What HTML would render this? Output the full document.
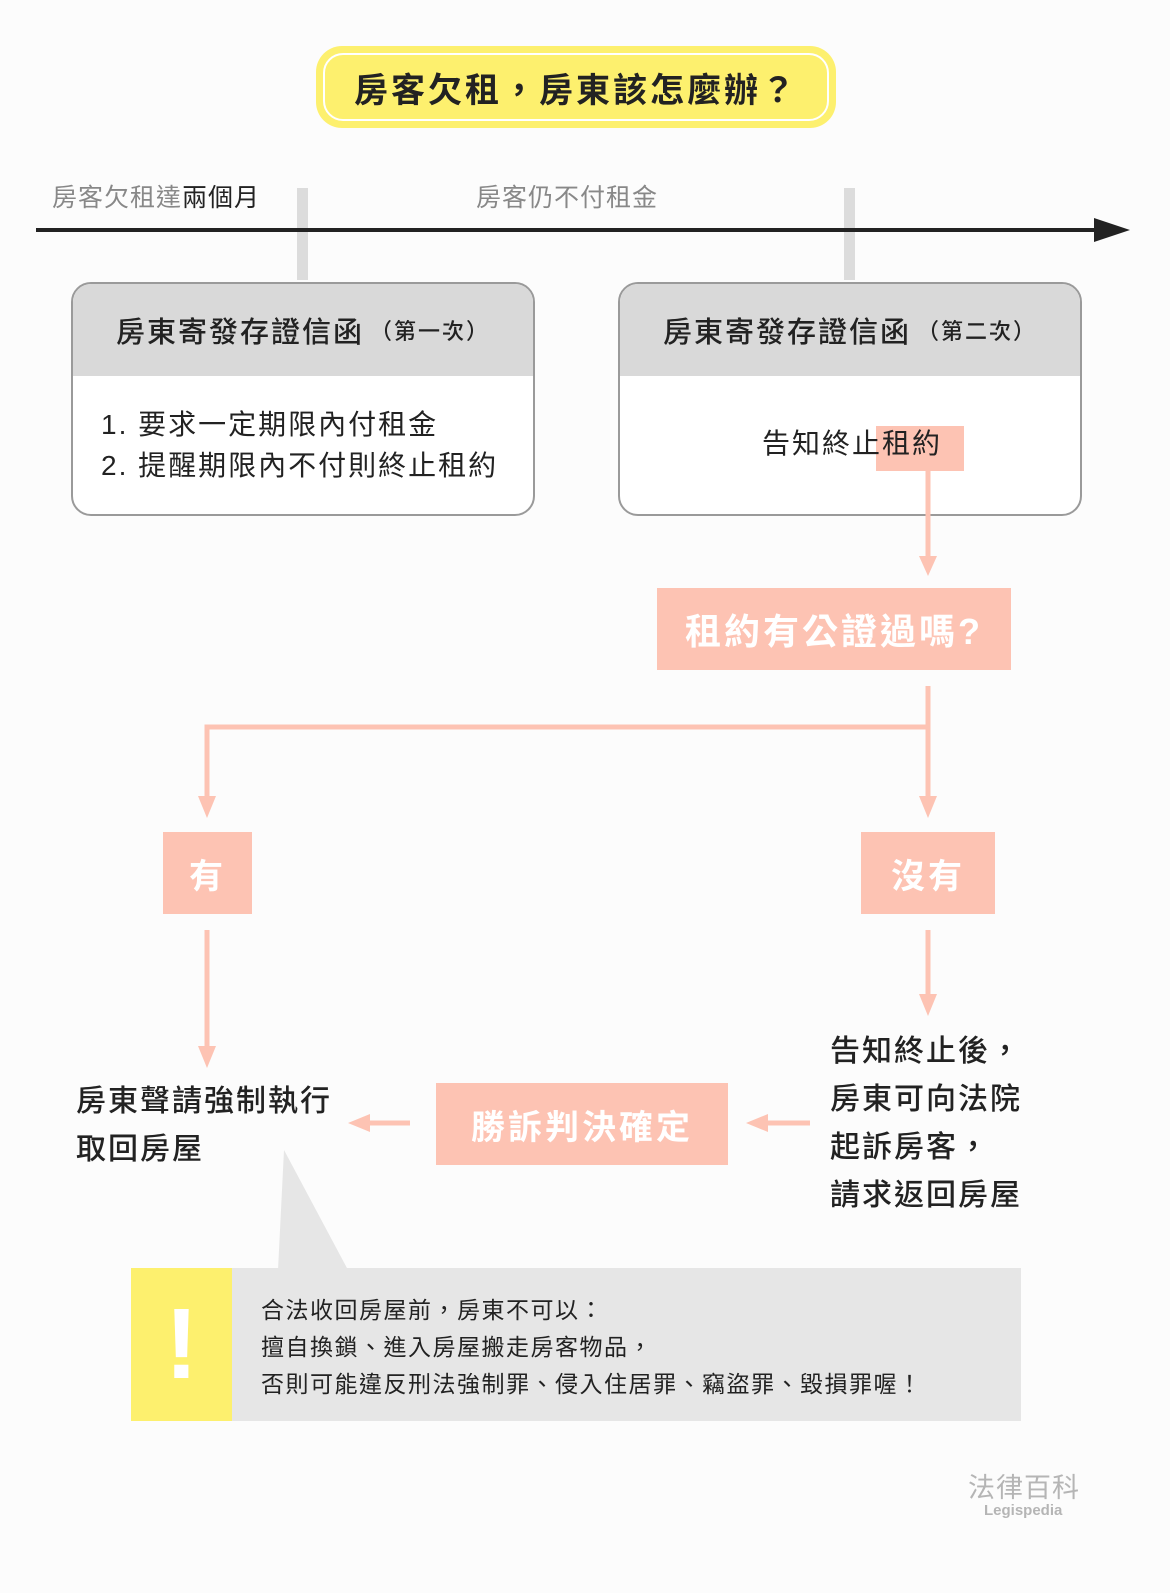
<!DOCTYPE html>
<html><head><meta charset="utf-8"><style>
*{margin:0;padding:0;box-sizing:border-box}
body{width:1170px;height:1593px;background:#fcfcfc;position:relative;overflow:hidden;font-family:"Liberation Sans","Noto Sans CJK TC",sans-serif;color:#222}
.a{position:absolute}
.sal{background:#fdc3b3;color:#fff;font-weight:bold;display:flex;align-items:center;justify-content:center;letter-spacing:3px}
.box{border:2px solid #9a9a9a;border-radius:20px;background:#fff;overflow:hidden}
.hd{height:92px;background:#d9d9d9;display:flex;align-items:center;justify-content:center;font-size:29px;font-weight:500;letter-spacing:2px}
.hd small{font-size:22px;margin-left:6px}
</style></head><body>
<div class="a" style="left:316px;top:46px;width:520px;height:82px;background:#fdf06e;border-radius:26px"></div>
<div class="a" style="left:323px;top:53px;width:506px;height:68px;border:2px solid #fff;border-radius:20px;display:flex;align-items:center;justify-content:center;font-size:34px;font-weight:bold;letter-spacing:3px">房客欠租，房東該怎麼辦？</div>

<div class="a" style="left:52px;top:178px;font-size:25px;color:#888;letter-spacing:1px">房客欠租達<span style="color:#222">兩個月</span></div>
<div class="a" style="left:476px;top:178px;font-size:25px;color:#888;letter-spacing:1px">房客仍不付租金</div>
<div class="a" style="left:297px;top:188px;width:11px;height:92px;background:#dcdcdc"></div>
<div class="a" style="left:844px;top:188px;width:11px;height:92px;background:#dcdcdc"></div>
<div class="a" style="left:36px;top:228px;width:1070px;height:4px;background:#222"></div>
<svg class="a" style="left:1094px;top:218px" width="38" height="26"><polygon points="0,0 36,12 0,24" fill="#222"/></svg>

<div class="a box" style="left:71px;top:282px;width:464px;height:234px">
<div class="hd">房東寄發存證信函<small>（第一次）</small></div>
<div style="padding:28px 0 0 28px;font-size:28px;line-height:41px;letter-spacing:2px">1. 要求一定期限內付租金<br>2. 提醒期限內不付則終止租約</div>
</div>
<div class="a box" style="left:618px;top:282px;width:464px;height:234px">
<div class="hd">房東寄發存證信函<small>（第二次）</small></div>
</div>
<div class="a" style="left:876px;top:426px;width:88px;height:45px;background:#fdc3b3"></div>
<div class="a" style="left:762px;top:422px;font-size:28px;letter-spacing:2px">告知終止租約</div>

<svg class="a" style="left:0;top:0" width="1170" height="1593">
<g stroke="#fdc3b3" stroke-width="5" fill="none">
<line x1="928" y1="470" x2="928" y2="560"/>
<line x1="928" y1="686" x2="928" y2="800"/>
<polyline points="928,727 207,727 207,800"/>
<line x1="207" y1="930" x2="207" y2="1050"/>
<line x1="928" y1="930" x2="928" y2="998"/>
<line x1="410" y1="1123" x2="365" y2="1123"/>
<line x1="810" y1="1123" x2="763" y2="1123"/>
</g>
<g fill="#fdc3b3">
<polygon points="919,556 937,556 928,576"/>
<polygon points="919,796 937,796 928,818"/>
<polygon points="198,796 216,796 207,818"/>
<polygon points="198,1046 216,1046 207,1068"/>
<polygon points="919,994 937,994 928,1016"/>
<polygon points="370,1114 370,1132 348,1123"/>
<polygon points="768,1114 768,1132 746,1123"/>
</g>
<polygon points="284,1150 278,1270 348,1270" fill="#e6e6e6"/>
</svg>

<div class="a sal" style="left:657px;top:588px;width:354px;height:82px;font-size:36px">租約有公證過嗎?</div>
<div class="a sal" style="left:163px;top:832px;width:89px;height:82px;font-size:34px">有</div>
<div class="a sal" style="left:861px;top:832px;width:134px;height:82px;font-size:34px">沒有</div>
<div class="a sal" style="left:436px;top:1083px;width:292px;height:82px;font-size:34px">勝訴判決確定</div>

<div class="a" style="left:76px;top:1078px;font-size:30px;line-height:48px;font-weight:500;letter-spacing:2px">房東聲請強制執行<br>取回房屋</div>
<div class="a" style="left:830px;top:1028px;font-size:30px;line-height:48px;font-weight:500;letter-spacing:2px">告知終止後，<br>房東可向法院<br>起訴房客，<br>請求返回房屋</div>

<div class="a" style="left:131px;top:1268px;width:890px;height:153px;background:#e6e6e6"></div>
<div class="a" style="left:131px;top:1268px;width:101px;height:153px;background:#fdf06e;color:#fff;font-size:100px;font-weight:bold;display:flex;align-items:center;justify-content:center">!</div>
<div class="a" style="left:261px;top:1292px;font-size:23px;line-height:37px;letter-spacing:1.5px">合法收回房屋前，房東不可以：<br>擅自換鎖、進入房屋搬走房客物品，<br>否則可能違反刑法強制罪、侵入住居罪、竊盜罪、毀損罪喔！</div>

<div class="a" style="left:968px;top:1466px;font-size:27px;color:#b5b5b5;letter-spacing:1px">法律百科</div>
<div class="a" style="left:984px;top:1502px;font-size:15px;color:#b5b5b5;font-weight:bold">Legispedia</div>
</body></html>
